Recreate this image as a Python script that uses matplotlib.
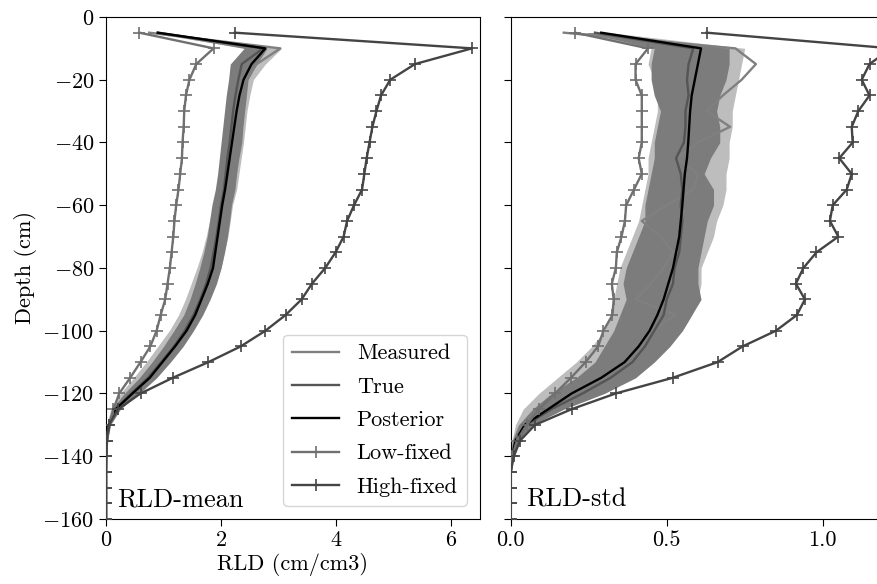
import matplotlib
matplotlib.use('Agg')
import matplotlib.pyplot as plt

plt.rcParams['font.family'] = 'serif'
plt.rcParams['font.serif'] = ['cmr10']
plt.rcParams['mathtext.fontset'] = 'cm'
plt.rcParams['axes.formatter.use_mathtext'] = True
plt.rcParams['axes.unicode_minus'] = True

depth = [-5, -10, -15, -20, -25, -30, -35, -40, -45, -50,
         -55, -60, -65, -70, -75, -80, -85, -90, -95, -100,
         -105, -110, -115, -120, -125, -130, -135, -140, -145, -150,
         -155, -160]

# RLD mean
low_mean = [0.58, 1.87, 1.57, 1.45, 1.39, 1.36, 1.35, 1.33, 1.32, 1.29,
            1.26, 1.22, 1.19, 1.17, 1.14, 1.11, 1.07, 1.03, 0.95, 0.88,
            0.77, 0.60, 0.42, 0.23, 0.13, 0.06, 0.02, 0, 0, 0, 0, 0]
high_mean = [2.24, 6.36, 5.37, 4.94, 4.78, 4.70, 4.63, 4.58, 4.53, 4.49,
             4.45, 4.31, 4.19, 4.13, 3.99, 3.81, 3.58, 3.40, 3.12, 2.77,
             2.34, 1.78, 1.16, 0.60, 0.21, 0.05, 0.01, 0, 0, 0, 0, 0]
post_mean = [0.9, 2.77, 2.53, 2.39, 2.32, 2.27, 2.23, 2.19, 2.15, 2.11,
             2.07, 2.02, 1.98, 1.94, 1.90, 1.86, 1.77, 1.66, 1.55, 1.40,
             1.20, 0.98, 0.76, 0.46, 0.17, 0.05, 0.015, 0.003, 0, 0, 0, 0]
true_mean = [0.9, 2.73, 2.36, 2.30, 2.25, 2.21, 2.18, 2.15, 2.11, 2.08,
             2.05, 2.00, 1.96, 1.92, 1.87, 1.82, 1.74, 1.64, 1.52, 1.37,
             1.18, 0.96, 0.73, 0.44, 0.16, 0.05, 0.015, 0.003, 0, 0, 0, 0]
meas_mean = [0.75, 3.03, 2.62, 2.42, 2.30, 2.24, 2.20, 2.17, 2.12, 2.10,
             2.04, 2.02, 1.95, 1.93, 1.86, 1.83, 1.73, 1.65, 1.50, 1.38,
             1.15, 0.97, 0.70, 0.45, 0.15, 0.05, 0.015, 0.003, 0, 0, 0, 0]
post_mean_lo = [0.85, 2.40, 2.16, 2.13, 2.09, 2.06, 2.03, 2.00, 1.97, 1.94,
                1.90, 1.84, 1.80, 1.76, 1.70, 1.63, 1.55, 1.46, 1.35, 1.18,
                1.00, 0.80, 0.58, 0.32, 0.10, 0.02, 0.005, 0, 0, 0, 0, 0]
post_mean_hi = [0.95, 2.80, 2.62, 2.47, 2.44, 2.41, 2.38, 2.36, 2.31, 2.27,
                2.24, 2.18, 2.15, 2.11, 2.06, 2.00, 1.92, 1.81, 1.68, 1.52,
                1.34, 1.12, 0.88, 0.58, 0.25, 0.08, 0.025, 0.005, 0, 0, 0, 0]
prior_mean_lo = [0.75, 2.45, 2.25, 2.18, 2.13, 2.09, 2.06, 2.03, 2.00, 1.96,
                 1.92, 1.86, 1.80, 1.74, 1.67, 1.58, 1.48, 1.38, 1.26, 1.10,
                 0.90, 0.70, 0.48, 0.25, 0.08, 0.015, 0.004, 0, 0, 0, 0, 0]
prior_mean_hi = [0.95, 3.05, 2.77, 2.56, 2.50, 2.45, 2.42, 2.39, 2.35, 2.31,
                 2.27, 2.20, 2.16, 2.12, 2.06, 2.00, 1.91, 1.80, 1.66, 1.50,
                 1.30, 1.08, 0.84, 0.55, 0.22, 0.07, 0.02, 0.004, 0, 0, 0, 0]

# RLD std
low_std = [0.206, 0.44, 0.40, 0.40, 0.42, 0.42, 0.42, 0.42, 0.41, 0.42,
           0.395, 0.37, 0.366, 0.355, 0.34, 0.337, 0.324, 0.33, 0.326, 0.297,
           0.28, 0.24, 0.193, 0.142, 0.09, 0.051, 0.02, 0.005, 0, 0, 0, 0]
high_std = [0.628, 1.22, 1.15, 1.125, 1.15, 1.114, 1.093, 1.096, 1.053, 1.093,
            1.077, 1.032, 1.023, 1.05, 0.98, 0.938, 0.914, 0.943, 0.917, 0.85,
            0.743, 0.663, 0.519, 0.336, 0.195, 0.078, 0.03, 0.01, 0, 0, 0, 0]
post_std = [0.29, 0.61, 0.60, 0.59, 0.58, 0.575, 0.572, 0.569, 0.565, 0.558,
            0.554, 0.55, 0.545, 0.54, 0.53, 0.52, 0.505, 0.49, 0.47, 0.445,
            0.41, 0.365, 0.29, 0.195, 0.12, 0.045, 0.015, 0.005, 0, 0, 0, 0]
true_std = [0.27, 0.585, 0.57, 0.565, 0.57, 0.56, 0.56, 0.555, 0.53, 0.545,
            0.55, 0.545, 0.55, 0.545, 0.54, 0.525, 0.52, 0.50, 0.49, 0.46,
            0.43, 0.39, 0.32, 0.23, 0.13, 0.05, 0.02, 0.005, 0, 0, 0, 0]
meas_std = [0.17, 0.72, 0.786, 0.74, 0.68, 0.628, 0.703, 0.60, 0.532, 0.60,
            0.585, 0.50, 0.42, 0.48, 0.52, 0.49, 0.45, 0.40, 0.53, 0.45,
            0.42, 0.37, 0.30, 0.20, 0.11, 0.04, 0.015, 0.005, 0, 0, 0, 0]
post_std_lo = [0.24, 0.46, 0.45, 0.45, 0.46, 0.48, 0.47, 0.46, 0.46, 0.45,
               0.44, 0.43, 0.43, 0.41, 0.39, 0.37, 0.36, 0.37, 0.35, 0.33,
               0.30, 0.27, 0.21, 0.13, 0.07, 0.025, 0.005, 0, 0, 0, 0, 0]
post_std_hi = [0.30, 0.70, 0.70, 0.69, 0.67, 0.66, 0.67, 0.67, 0.64, 0.62,
               0.65, 0.65, 0.63, 0.62, 0.61, 0.60, 0.60, 0.61, 0.58, 0.55,
               0.51, 0.46, 0.40, 0.30, 0.17, 0.07, 0.025, 0.006, 0, 0, 0, 0]
prior_std_lo = [0.22, 0.45, 0.44, 0.46, 0.47, 0.47, 0.46, 0.45, 0.44, 0.44,
                0.43, 0.42, 0.41, 0.39, 0.37, 0.35, 0.34, 0.33, 0.32, 0.30,
                0.26, 0.21, 0.15, 0.09, 0.04, 0.015, 0.004, 0, 0, 0, 0, 0]
prior_std_hi = [0.32, 0.75, 0.74, 0.73, 0.72, 0.71, 0.71, 0.70, 0.70, 0.69,
                0.69, 0.68, 0.66, 0.65, 0.63, 0.61, 0.61, 0.60, 0.58, 0.55,
                0.50, 0.44, 0.37, 0.27, 0.15, 0.06, 0.02, 0.005, 0, 0, 0, 0]


def draw_panel(ax, meas, true, post, lo, hi, plo, phi, low, high):
    ax.fill_betweenx(depth, plo, phi, color='#bdbdbd', lw=0, zorder=1)
    ax.fill_betweenx(depth, lo, hi, color='#7c7c7c', lw=0, zorder=2)
    ax.plot(meas, depth, color='#808080', lw=1.7, label='Measured', zorder=3)
    ax.plot(true, depth, color='#555555', lw=1.7, label='True', zorder=4)
    ax.plot(post, depth, color='black', lw=1.7, label='Posterior', zorder=5)
    ax.plot(low, depth, color='#707070', lw=1.7, marker='+', ms=8, mew=1.2,
            label='Low-fixed', zorder=6)
    ax.plot(high, depth, color='#444444', lw=1.7, marker='+', ms=8, mew=1.2,
            label='High-fixed', zorder=6)
    ax.set_ylim(-160, 0)
    ax.tick_params(labelsize=16, length=5, direction='out')


fig = plt.figure(figsize=(8.78, 5.84), dpi=100)
ax1 = fig.add_axes([0.1207, 0.1113, 0.426, 0.8596])
ax2 = fig.add_axes([0.5817, 0.1113, 0.4264, 0.8596], sharey=ax1)

draw_panel(ax1, meas_mean, true_mean, post_mean, post_mean_lo, post_mean_hi,
           prior_mean_lo, prior_mean_hi, low_mean, high_mean)
ax1.set_xlim(0, 6.5)
ax1.set_xticks([0, 2, 4, 6])
ax1.set_yticks([0, -20, -40, -60, -80, -100, -120, -140, -160])
ax1.set_xlabel('RLD (cm/cm3)', fontsize=16, labelpad=2)
ax1.set_ylabel('Depth (cm)', fontsize=16, labelpad=4)
ax1.text(0.03, 0.025, 'RLD-mean', transform=ax1.transAxes, fontsize=19)
ax1.legend(loc='lower right', fontsize=16, handlelength=2.1,
           borderaxespad=0.6, labelspacing=0.62)

draw_panel(ax2, meas_std, true_std, post_std, post_std_lo, post_std_hi,
           prior_std_lo, prior_std_hi, low_std, high_std)
ax2.set_xlim(0, 1.2)
ax2.set_xticks([0.0, 0.5, 1.0])
ax2.set_xticklabels(['0.0', '0.5', '1.0'])
ax2.tick_params(labelleft=False)
ax2.text(0.04, 0.025, 'RLD-std', transform=ax2.transAxes, fontsize=19)

fig.savefig('out.png', dpi=100)
